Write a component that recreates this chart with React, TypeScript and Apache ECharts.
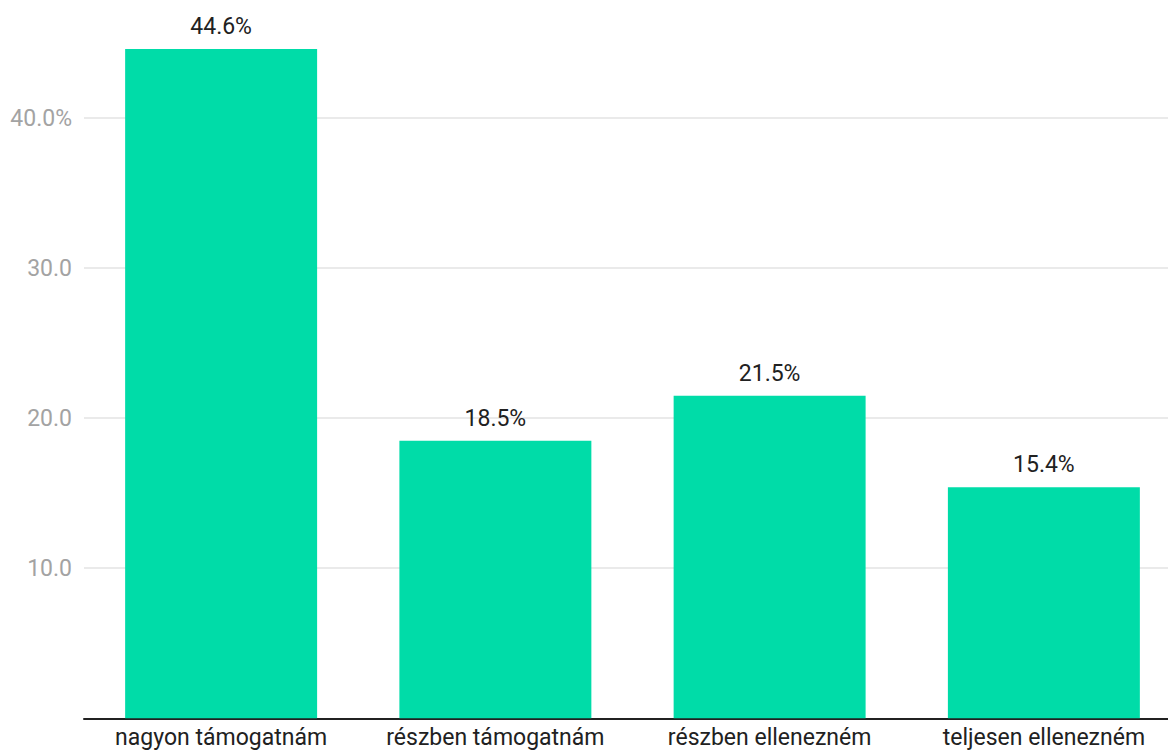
import React, { useEffect, useRef } from "react";
import * as echarts from "echarts";

const categories = ["nagyon támogatnám", "részben támogatnám", "részben ellenezném", "teljesen ellenezném"];
const values = [44.6, 18.5, 21.5, 15.4];
const yTicks = [0, 10, 20, 30, 40, 50];

export default function App() {
  const ref = useRef<HTMLDivElement>(null);
  useEffect(() => {
    if (!ref.current) return;
    const chart = echarts.init(ref.current, undefined, { renderer: "svg" });
    chart.setOption({
      animation: false,
      grid: { left: 84, right: 0, top: 0, bottom: 34.7, containLabel: false },
      xAxis: {
        type: "category",
        data: categories,
        axisTick: { show: false },
        axisLine: { lineStyle: { color: "#212121", width: 2 } },
        axisLabel: { color: "#212121", fontSize: 23, fontFamily: "Roboto", margin: 8, interval: 0 },
      },
      yAxis: {
        type: "value",
        min: yTicks[0],
        max: yTicks[yTicks.length - 1],
        interval: 10,
        axisLine: { show: false },
        axisTick: { show: false },
        splitLine: { lineStyle: { color: "#e3e3e3", width: 1.5 } },
        axisLabel: {
          color: "#a3a3a3",
          fontSize: 23,
          fontFamily: "Roboto",
          margin: 12,
          formatter: (v: number) => (v === 0 || v === 50 ? "" : v === 40 ? "40.0%" : v.toFixed(1)),
        },
      },
      series: [
        {
          type: "bar",
          data: values,
          barCategoryGap: "30%",
          itemStyle: { color: "#00dca8" },
          label: {
            show: true,
            position: "top",
            distance: 11,
            color: "#212121",
            fontSize: 23,
            fontFamily: "Roboto",
            formatter: (p: any) => p.value.toFixed(1) + "%",
          },
        },
      ],
    });
    return () => chart.dispose();
  }, []);
  return (
    <div style={{ position: "fixed", left: 0, top: 0, width: 1168, height: 753, overflow: "hidden", background: "#fff" }}>
      <div ref={ref} style={{ width: 1181, height: 785, marginTop: -32 }} />
    </div>
  );
}
